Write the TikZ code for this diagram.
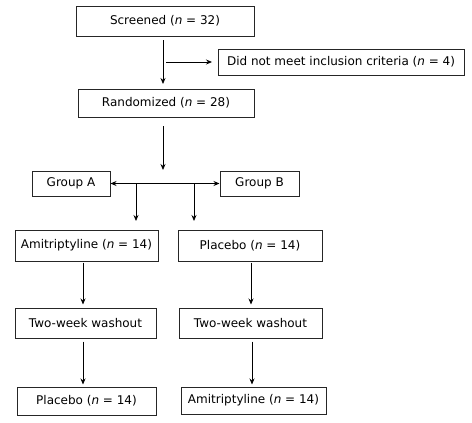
\documentclass[tikz,border=0pt]{standalone}
\usepackage{fontspec}
\setmainfont{DejaVu Sans}
\usetikzlibrary{arrows.meta}
\begin{document}
\begin{tikzpicture}[x=1pt,y=-1pt,
  box/.style={draw=black!85,line width=1pt,inner sep=0pt,font=\fontsize{12}{14}\selectfont,anchor=center},
  tip/.tip={Stealth[length=6pt,width=5pt]},
  arr/.style={draw,line width=0.8pt,-tip},
  ln/.style={draw,line width=0.8pt}]
\useasboundingbox (0,0) rectangle (472,423);
\newcommand{\bx}[6]{\node[box,minimum width=#4-#2,minimum height=#5-#3] (#1) at ({(#2+#4)/2},{(#3+#5)/2}) {#6};}
\bx{scr}{76}{6}{254}{36}{Screened (\textit{n} = 32)}
\bx{dnm}{218}{49}{464}{75}{Did not meet inclusion criteria (\textit{n} = 4)}
\bx{ran}{78}{89}{254}{117}{Randomized (\textit{n} = 28)}
\bx{ga}{32}{171}{110}{196}{Group A}
\bx{gb}{220}{171}{299}{196}{Group B}
\bx{am1}{15}{230}{158}{261}{Amitriptyline (\textit{n} = 14)}
\bx{pl1}{178}{230}{322}{261}{Placebo (\textit{n} = 14)}
\bx{ww1}{15}{308}{156}{338}{Two-week washout}
\bx{ww2}{179}{308}{322}{338}{Two-week washout}
\bx{pl2}{17}{387}{156}{415}{Placebo (\textit{n} = 14)}
\bx{am2}{181}{387}{326}{414}{Amitriptyline (\textit{n} = 14)}
\coordinate (s1) at (163,40);
\coordinate (s2) at (163,84);
\coordinate (h1) at (166,62);
\coordinate (r1) at (163,126);
\coordinate (r2) at (163,170);
\coordinate (d1) at (136,183);
\coordinate (d1e) at (136,221);
\coordinate (d2) at (194,183);
\coordinate (d2e) at (194,221);
\draw[arr] (s1) -- (s2);
\draw[arr] (h1) -- (212,62) coordinate (h2);
\draw[arr] (r1) -- (r2);
\draw[line width=0.8pt,tip-tip] (ga.east) -- (gb.east -| gb.west);
\draw[arr] (d1) -- (d1e);
\draw[arr] (d2) -- (d2e);
\draw[arr] ([yshift=-1pt]am1.south -| 83,0) -- ([yshift=3pt]ww1.north -| 83,0);
\draw[arr] ([yshift=-1pt]pl1.south -| 251,0) -- ([yshift=3pt]ww2.north -| 251,0);
\draw[arr] ([yshift=-3pt]ww1.south -| 83,0) -- ([yshift=2pt]pl2.north -| 83,0);
\draw[arr] ([yshift=-3pt]ww2.south -| 252,0) -- ([yshift=2pt]am2.north -| 252,0);
\end{tikzpicture}
\end{document}
